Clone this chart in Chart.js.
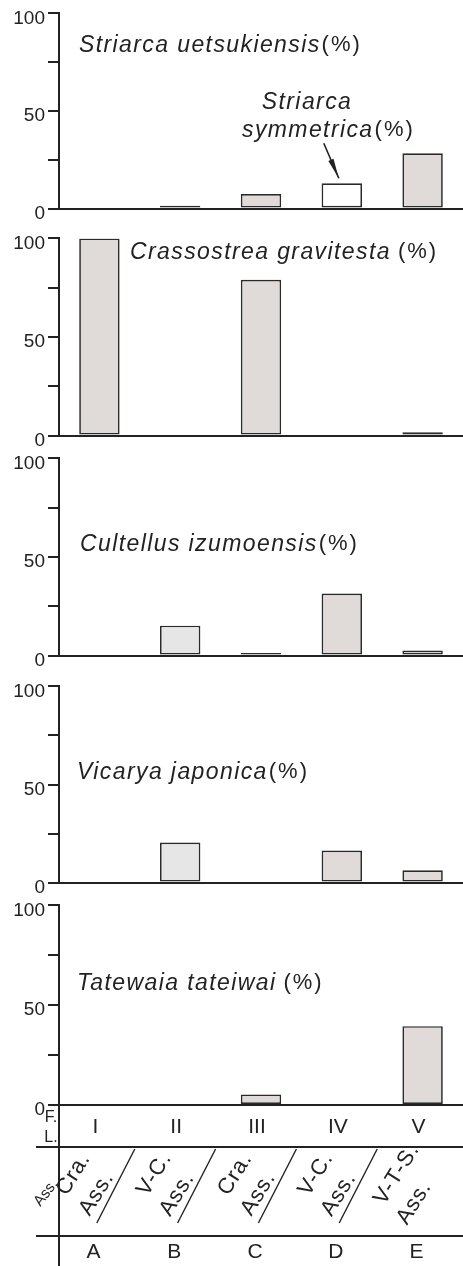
<!DOCTYPE html>
<html>
<head>
<meta charset="utf-8">
<script src="https://cdn.jsdelivr.net/npm/chart.js@4.4.0/dist/chart.umd.min.js"></script>
<style>
  html, body { margin: 0; padding: 0; background: #fff; }
  #wrap { position: relative; width: 463px; height: 1266px; overflow: hidden; }
  .panel { position: absolute; left: 0; width: 463px; }
</style>
</head>
<body>
<div id="wrap"></div>
<script>
// categories (columns) and table rows
const faunalLevels = ["I", "II", "III", "IV", "V"];
const localities = ["A", "B", "C", "D", "E"];
const assemblages = [["Cra.", "Ass."], ["V-C.", "Ass."], ["Cra.", "Ass."], ["V-C.", "Ass."], ["V-T-S.", "Ass."]];

// y ticks
const yTickValues = [0, 25, 50, 75, 100];
const yTickLabels = ["0", "", "50", "", "100"];

// series values (%)
const striarcaUetsukiensis = [0, 1.4, 7.5, 0.6, 28.3];
const striarcaSymmetrica = [0, 0, 0, 12.4, 0];
const crassostreaGravitesta = [100, 0, 79, 0, 1.7];
const cultellusIzumoensis = [0, 15.2, 1.3, 31.5, 2.6];
const vicaryaJaponica = [0, 20.4, 0, 16.3, 6.3];
const tatewaiaTateiwai = [0, 0, 5.3, 0, 39.5];

const FONT = "'Liberation Sans', Arial, sans-serif";
const INK = "#222";
const PINK = "#e0dad9";
const GREY = "#e6e6e6";
const colFill = [PINK, GREY, PINK, PINK, PINK];

Chart.defaults.font.family = FONT;
Chart.defaults.color = INK;
Chart.defaults.animation = false;

// panel chart areas (top of 100, bottom at 0)
const panelBox = [[11, 211], [236, 438], [456, 658], [684, 885], [903, 1105]];

function speciesText(ctx, name, x, y, gap) {
  ctx.font = "italic 23px " + FONT;
  ctx.letterSpacing = "1.4px";
  ctx.fillText(name, x, y);
  const w = ctx.measureText(name).width;
  ctx.font = "22px " + FONT;
  ctx.letterSpacing = "2px";
  ctx.fillText("(%)", x + w + gap, y);
  ctx.letterSpacing = "0px";
}

const titlePlugin = {
  id: "panelTitle",
  afterDraw(chart, args, o) {
    if (!o.name) return;
    const ctx = chart.ctx, a = chart.chartArea;
    ctx.save();
    ctx.fillStyle = INK;
    ctx.textBaseline = "middle";
    speciesText(ctx, o.name, o.x, a.top + o.dy, o.gap);
    ctx.restore();
  }
};

// arrow + label for Striarca symmetrica (panel 1 only)
const symmetricaPlugin = {
  id: "symLabel",
  afterDraw(chart, args, o) {
    if (!o.on) return;
    const ctx = chart.ctx;
    const xs = chart.scales.x, ys = chart.scales.y;
    const tx = xs.getPixelForValue(3) - 3;
    const ty = ys.getPixelForValue(striarcaUetsukiensis[3] + striarcaSymmetrica[3]) - 5;
    const sx = tx - 15, sy = ty - 35;
    ctx.save();
    ctx.fillStyle = INK;
    ctx.strokeStyle = INK;
    ctx.lineWidth = 1.6;
    ctx.beginPath();
    ctx.moveTo(sx, sy);
    ctx.lineTo(tx, ty);
    ctx.stroke();
    // tapered head
    const dx = tx - sx, dy = ty - sy, len = Math.hypot(dx, dy);
    const ux = dx / len, uy = dy / len, px = -uy, py = ux;
    const bx = tx - ux * 20, by = ty - uy * 20;
    ctx.beginPath();
    ctx.moveTo(bx + px * 2.8, by + py * 2.8);
    ctx.lineTo(tx, ty);
    ctx.lineTo(bx - px * 2.8, by - py * 2.8);
    ctx.closePath();
    ctx.fill();
    ctx.textBaseline = "middle";
    ctx.font = "italic 23px " + FONT;
    ctx.letterSpacing = "1.4px";
    ctx.textAlign = "center";
    ctx.fillText("Striarca", 307, chart.chartArea.top + 89);
    ctx.textAlign = "left";
    speciesText(ctx, "symmetrica", 242, chart.chartArea.top + 117, 1);
    ctx.restore();
  }
};

// bottom table: F.L. / Ass. / locality rows
const tablePlugin = {
  id: "fieldTable",
  afterDraw(chart, args, o) {
    if (!o.on) return;
    const ctx = chart.ctx, a = chart.chartArea, xs = chart.scales.x;
    const y0 = a.bottom, y1 = y0 + 42, y2 = y0 + 131, yEnd = chart.height;
    ctx.save();
    ctx.strokeStyle = INK;
    ctx.fillStyle = INK;
    ctx.lineWidth = 2;
    ctx.beginPath();
    ctx.moveTo(a.left, y0); ctx.lineTo(a.left, yEnd);
    ctx.moveTo(36, y1); ctx.lineTo(chart.width, y1);
    ctx.moveTo(36, y2); ctx.lineTo(chart.width, y2);
    ctx.stroke();

    ctx.textAlign = "center";
    ctx.textBaseline = "middle";
    ctx.font = "16px " + FONT;
    ctx.fillText("F.", 51, y0 + 13);
    ctx.fillText("L.", 51, y0 + 33);
    ctx.save();
    ctx.translate(46, y0 + 88);
    ctx.rotate(-52 * Math.PI / 180);
    ctx.font = "15px " + FONT;
    ctx.fillText("Ass.", 0, 0);
    ctx.restore();

    ctx.font = "21px " + FONT;
    faunalLevels.forEach((t, i) => {
      ctx.fillText(t, xs.getPixelForValue(i) - 4, y0 + 22);
    });
    localities.forEach((t, i) => {
      ctx.fillText(t, xs.getPixelForValue(i) - 6, y2 + 16);
    });

    const ang = -58 * Math.PI / 180;
    assemblages.forEach((lines, i) => {
      const cx = xs.getPixelForValue(i) - 13;
      ctx.save();
      ctx.translate(cx, y0 + 77);
      ctx.rotate(ang);
      ctx.font = "22px " + FONT;
      ctx.letterSpacing = "1px";
      ctx.textAlign = "left";
      const w0 = ctx.measureText(lines[0]).width;
      ctx.fillText(lines[0], -w0 / 2, -15);
      ctx.fillText(lines[1], -w0 / 2 - 5, 15);
      ctx.restore();
    });
    // slashes between assemblage groups
    ctx.lineWidth = 1.4;
    for (let i = 0; i < 4; i++) {
      const b = (xs.getPixelForValue(i) + xs.getPixelForValue(i + 1)) / 2 - 24;
      ctx.beginPath();
      ctx.moveTo(b + 19, y1 + 2);
      ctx.lineTo(b - 19, y1 + 76);
      ctx.stroke();
    }
    ctx.restore();
  }
};

function makePanel(idx, datasets, title, extra) {
  const [top, bottom] = panelBox[idx];
  const last = idx === panelBox.length - 1;
  const divTop = top - 12;
  const divH = last ? 1266 - divTop : bottom - top + 24;
  const div = document.createElement("div");
  div.className = "panel";
  div.style.top = divTop + "px";
  div.style.height = divH + "px";
  const cv = document.createElement("canvas");
  div.appendChild(cv);
  document.getElementById("wrap").appendChild(div);

  new Chart(cv, {
    type: "bar",
    data: { labels: localities, datasets: datasets },
    options: {
      responsive: true,
      maintainAspectRatio: false,
      layout: { padding: { top: 12, bottom: last ? 1266 - bottom : 12, left: 0, right: 0 } },
      plugins: {
        legend: { display: false },
        tooltip: { enabled: false },
        panelTitle: title,
        symLabel: { on: !!(extra && extra.sym) },
        fieldTable: { on: last }
      },
      scales: {
        x: {
          stacked: true,
          grid: { display: false },
          ticks: { display: false },
          border: { display: true, color: INK, width: 2 },
          afterFit: ax => { ax.height = 0; }
        },
        y: {
          stacked: true,
          min: 0, max: 100,
          afterBuildTicks: ax => { ax.ticks = yTickValues.map(v => ({ value: v })); },
          ticks: {
            callback: (v, i) => yTickLabels[i],
            font: { size: 19 },
            color: INK,
            padding: 3,
            labelOffset: 5,
            autoSkip: false
          },
          grid: { drawOnChartArea: false, drawTicks: true, tickLength: 11, color: INK, lineWidth: 2 },
          border: { display: true, color: INK, width: 2 },
          afterFit: ax => { ax.width = 59; }
        }
      }
    },
    plugins: [titlePlugin, symmetricaPlugin, tablePlugin]
  });
}

function bars(values, fill) {
  return {
    data: values,
    backgroundColor: fill || colFill,
    borderColor: "#2a2a2a",
    borderWidth: 1.7,
    borderSkipped: false,
    barPercentage: 0.5,
    categoryPercentage: 1.0
  };
}

makePanel(0, [bars(striarcaUetsukiensis, [PINK, "#222", PINK, "#222", PINK]), bars(striarcaSymmetrica, "#fff")],
  { name: "Striarca uetsukiensis", x: 79, dy: 32, gap: 1 }, { sym: true });
makePanel(1, [bars(crassostreaGravitesta)],
  { name: "Crassostrea gravitesta", x: 130, dy: 14, gap: 7 });
makePanel(2, [bars(cultellusIzumoensis)],
  { name: "Cultellus izumoensis", x: 80, dy: 86, gap: 1 });
makePanel(3, [bars(vicaryaJaponica)],
  { name: "Vicarya japonica", x: 77, dy: 86, gap: 1 });
makePanel(4, [bars(tatewaiaTateiwai)],
  { name: "Tatewaia tateiwai", x: 77, dy: 78, gap: 7 });
</script>
</body>
</html>
